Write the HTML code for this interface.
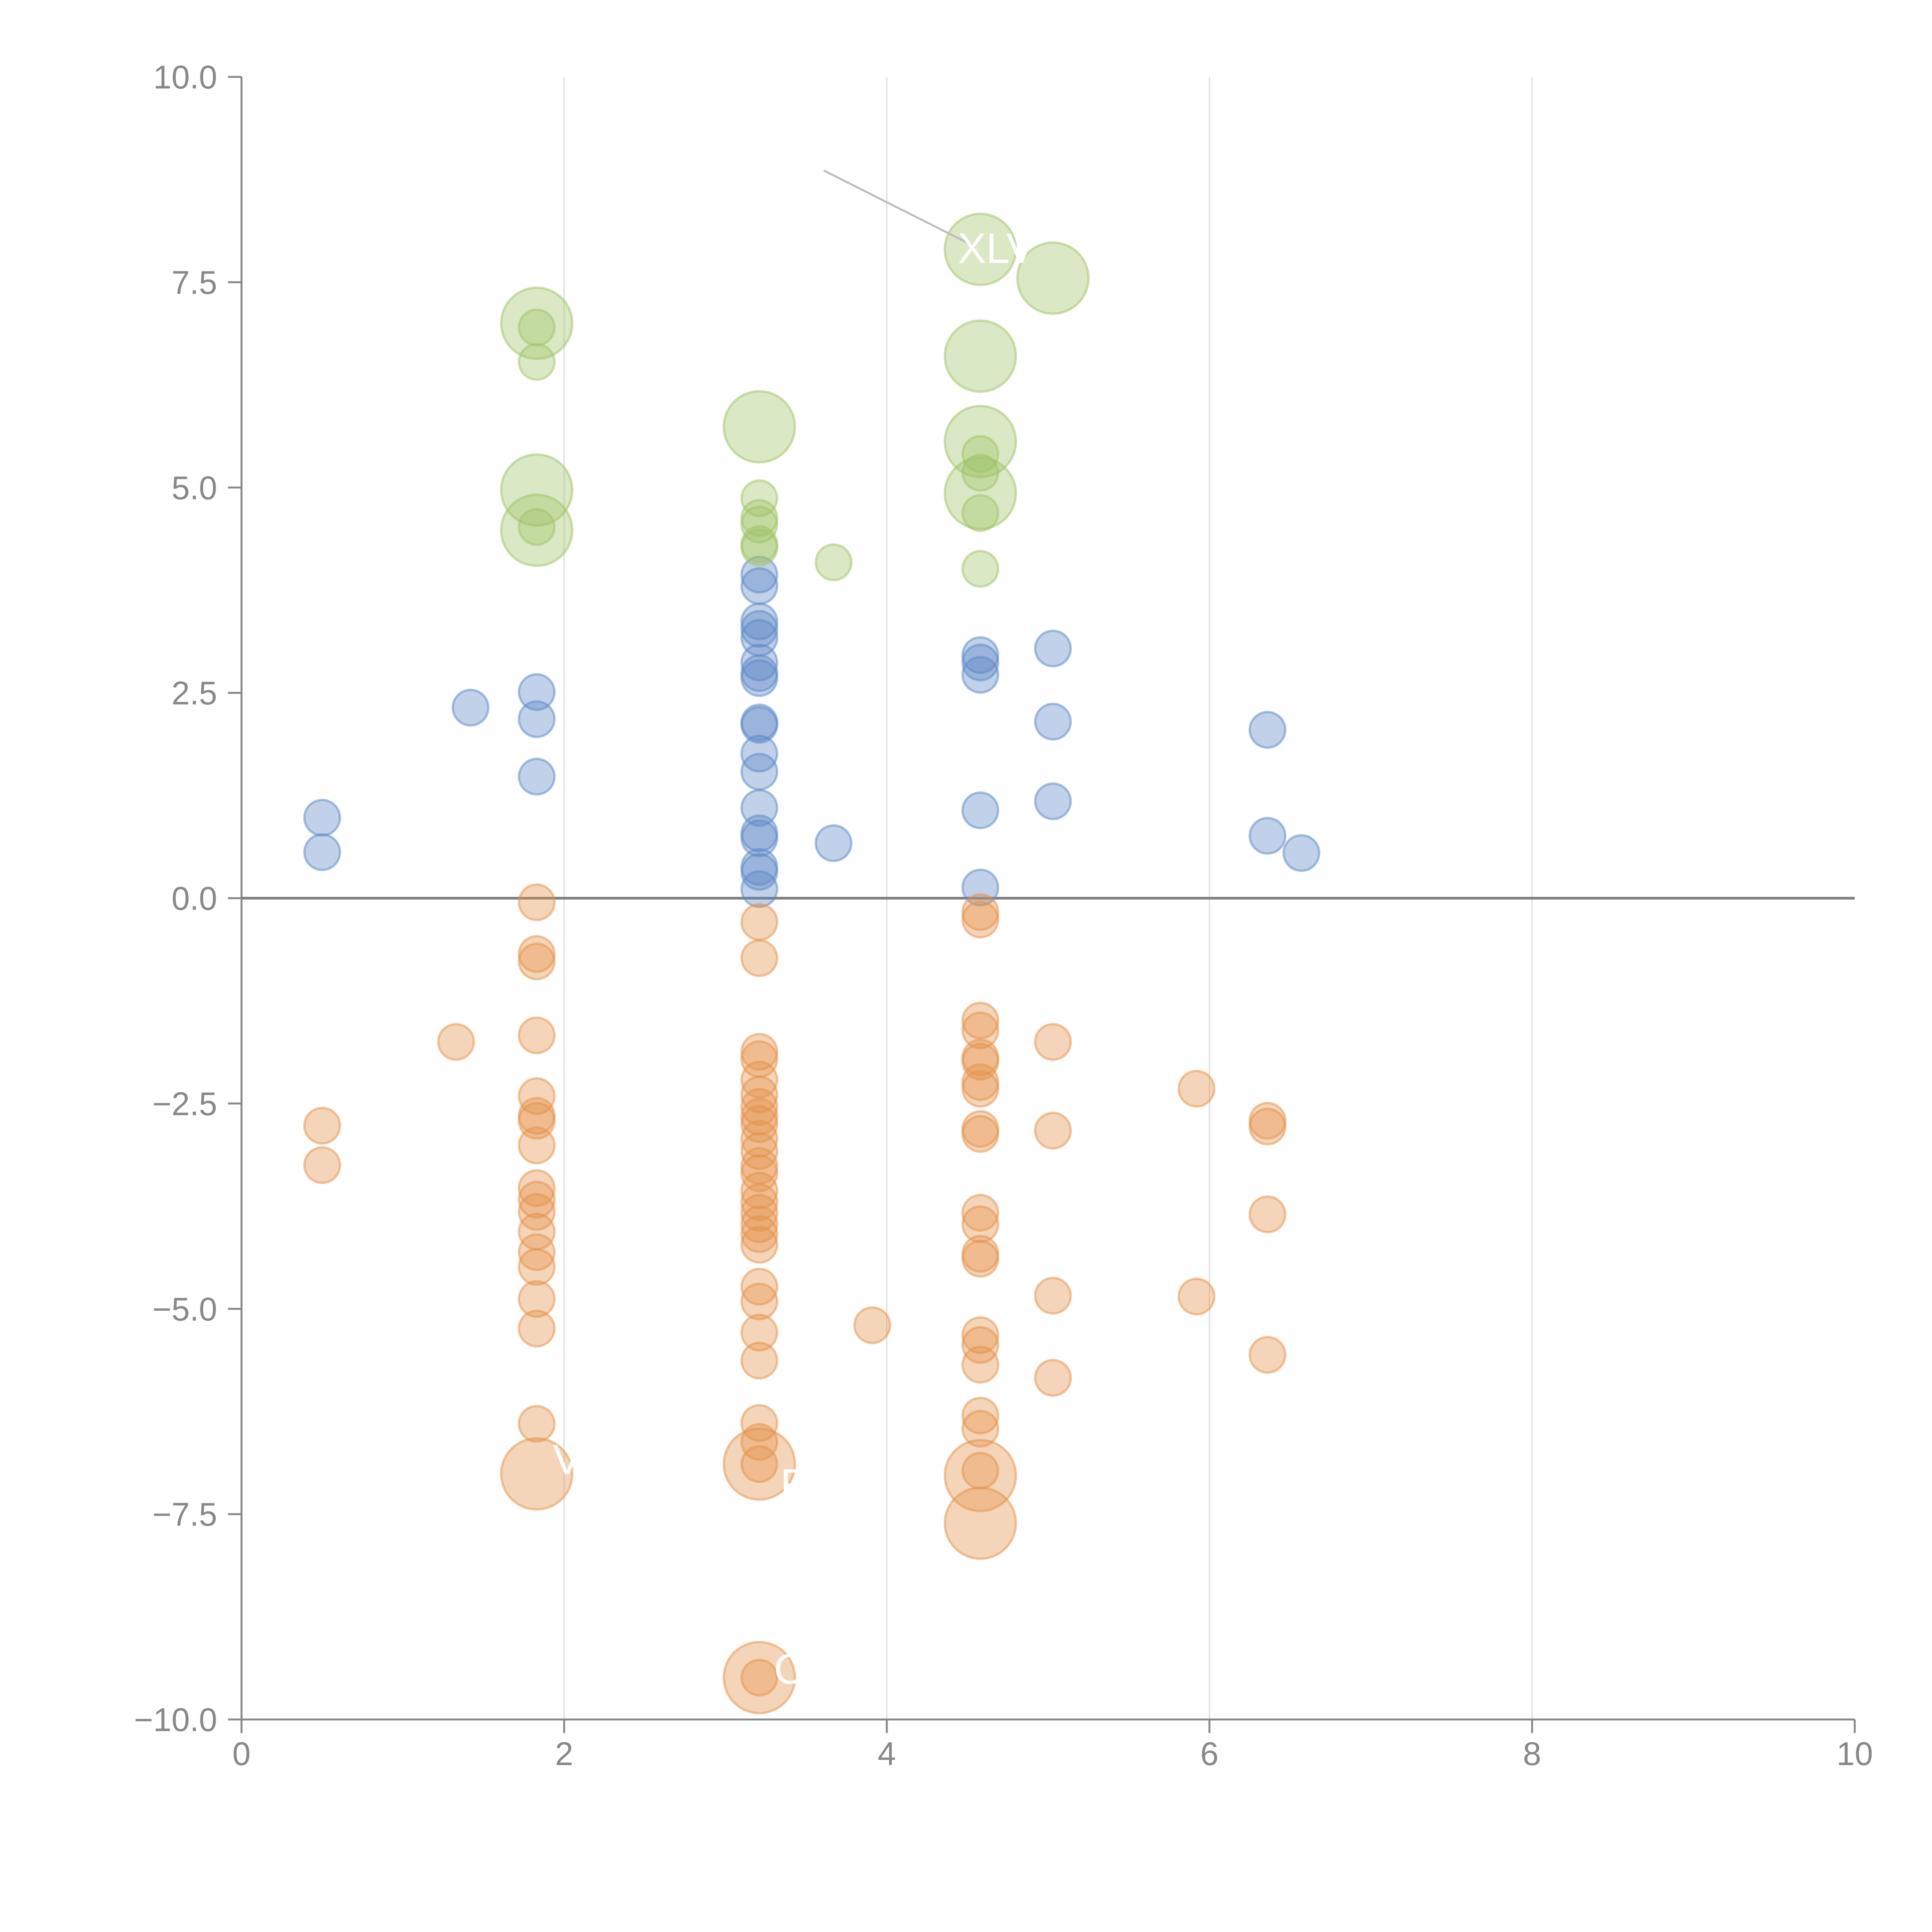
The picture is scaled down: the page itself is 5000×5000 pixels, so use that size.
<!DOCTYPE html>
<html><head><meta charset="utf-8"><style>html,body{margin:0;padding:0;background:#fff}svg{display:block}</style></head>
<body>
<svg id="chart" width="5000" height="5000" viewBox="0 0 5000 5000" xmlns="http://www.w3.org/2000/svg" font-family="Liberation Sans, sans-serif"></svg>
<script>
const xTicks = [0, 2, 4, 6, 8, 10];
const xTickLabels = ["0", "2", "4", "6", "8", "10"];
const yTicks = [10, 7.5, 5, 2.5, 0, -2.5, -5, -7.5, -10];
const yTickLabels = ["10.0", "7.5", "5.0", "2.5", "0.0", "\u22122.5", "\u22125.0", "\u22127.5", "\u221210.0"];

const blueX = [0.5,0.5,1.42,1.83,1.83,1.83,3.21,3.21,3.21,3.21,3.21,3.21,3.21,3.21,3.21,3.21,3.21,3.21,3.21,3.21,3.21,3.21,3.21,3.21,3.67,4.58,4.58,4.58,4.58,4.58,5.03,5.03,5.03,6.36,6.36,6.57];
const blueY = [0.98,0.56,2.32,2.51,2.18,1.48,3.94,3.80,3.37,3.28,3.17,2.87,2.74,2.68,2.14,2.11,1.76,1.54,1.10,0.79,0.73,0.38,0.32,0.11,0.67,2.96,2.87,2.72,1.07,0.13,3.04,2.15,1.18,2.05,0.76,0.55];

const greenX = [1.83,1.83,1.83,1.83,1.83,1.83,3.21,3.21,3.21,3.21,3.21,3.21,3.67,4.58,4.58,4.58,4.58,4.58,4.58,4.58,4.58,5.03];
const greenY = [7.0,6.95,6.53,4.97,4.48,4.52,5.74,4.87,4.63,4.55,4.31,4.27,4.09,7.9,6.6,5.56,5.41,5.18,4.93,4.69,4.01,7.55];
const greenSize = [2,1,1,2,2,1,2,1,1,1,1,1,1,2,2,2,1,1,2,1,1,2];

const orangeX = [0.5,0.5,1.33,1.83,1.83,1.83,1.83,1.83,1.83,1.83,1.83,1.83,1.83,1.83,1.83,1.83,1.83,1.83,1.83,1.83,1.83,3.21,3.21,3.21,3.21,3.21,3.21,3.21,3.21,3.21,3.21,3.21,3.21,3.21,3.21,3.21,3.21,3.21,3.21,3.21,3.21,3.21,3.21,3.21,3.21,3.21,3.21,3.21,3.21,3.21,3.91,4.58,4.58,4.58,4.58,4.58,4.58,4.58,4.58,4.58,4.58,4.58,4.58,4.58,4.58,4.58,4.58,4.58,4.58,4.58,4.58,4.58,4.58,5.03,5.03,5.03,5.03,5.92,5.92,6.36,6.36,6.36,6.36];
const orangeY = [-2.77,-3.25,-1.75,-0.05,-0.68,-0.77,-1.67,-2.41,-2.65,-2.71,-3.01,-3.53,-3.67,-3.82,-4.06,-4.31,-4.49,-4.88,-5.24,-6.40,-7.01,-0.29,-0.73,-1.87,-1.96,-2.21,-2.39,-2.54,-2.66,-2.75,-2.93,-3.08,-3.26,-3.35,-3.56,-3.70,-3.83,-3.97,-4.09,-4.22,-4.73,-4.91,-5.29,-5.63,-6.39,-6.62,-6.89,-6.89,-9.49,-9.49,-5.20,-0.17,-0.26,-1.49,-1.61,-1.94,-1.99,-2.24,-2.32,-2.81,-2.87,-3.83,-3.97,-4.33,-4.39,-5.32,-5.44,-5.68,-6.30,-6.46,-7.03,-6.97,-7.61,-1.75,-2.83,-4.84,-5.84,-2.32,-4.85,-2.71,-2.78,-3.85,-5.56];
const orangeSize = [1,1,1,1,1,1,1,1,1,1,1,1,1,1,1,1,1,1,1,1,2,1,1,1,1,1,1,1,1,1,1,1,1,1,1,1,1,1,1,1,1,1,1,1,1,1,2,1,2,1,1,1,1,1,1,1,1,1,1,1,1,1,1,1,1,1,1,1,1,1,2,1,2,1,1,1,1,1,1,1,1,1,1];

const X0 = 625, X1 = 4800, Y0 = 4450, Y1 = 199;
const sx = v => X0 + (v - 0) / 10 * (X1 - X0);
const sy = v => Y0 - (v + 10) / 20 * (Y0 - Y1);
const NS = "http://www.w3.org/2000/svg";
const svg = document.getElementById('chart');
function mk(tag, attrs, parent) {
  const e = document.createElementNS(NS, tag);
  for (const k in attrs) e.setAttribute(k, attrs[k]);
  (parent || svg).appendChild(e);
  return e;
}

// gridlines
xTicks.forEach((t, i) => {
  if (t === 0 || t === 10) return;
  const g = mk('line', {x1: sx(t), x2: sx(t), y1: Y1, y2: Y0, stroke: '#dcdcdc', 'stroke-width': 3});
  
  
});

// axes
const ya = mk('line', {x1: X0, x2: X0, y1: Y1, y2: Y0, stroke: '#888', 'stroke-width': 5});


const xa = mk('line', {x1: X0, x2: X1, y1: Y0, y2: Y0, stroke: '#888', 'stroke-width': 5});



xTicks.forEach((t, i) => {
  const tk = mk('line', {x1: sx(t), x2: sx(t), y1: Y0, y2: Y0 + 35, stroke: '#888', 'stroke-width': 5});
  
  
  const tl = mk('text', {x: sx(t), y: Y0 + 118, 'text-anchor': 'middle', 'font-size': 85, fill: '#888'});
  tl.textContent = xTickLabels[i];
  
  
});
yTicks.forEach((t, i) => {
  const tk = mk('line', {x1: X0 - 35, x2: X0, y1: sy(t), y2: sy(t), stroke: '#888', 'stroke-width': 5});
  
  
  const tl = mk('text', {x: 562, y: sy(t) + 30, 'text-anchor': 'end', 'font-size': 85, fill: '#888'});
  tl.textContent = yTickLabels[i];
  
  
});

// zero line
const zl = mk('line', {x1: X0, x2: X1, y1: sy(0), y2: sy(0), stroke: '#808080', 'stroke-width': 7});



function series(xs, ys, sizes, color, name) {
  xs.forEach((x, i) => {
    const r = (sizes && sizes[i] === 2) ? 92 : 46;
    const c = mk('circle', {cx: sx(x), cy: sy(ys[i]), r: r, fill: color, 'fill-opacity': 0.38, stroke: color, 'stroke-opacity': 0.5, 'stroke-width': 6});
    
    
  });
}
series(blueX, blueY, null, '#5b87c5', 'blue');
series(greenX, greenY, greenSize, '#9fc266', 'green');
series(orangeX, orangeY, orangeSize, '#e4914a', 'orange');

// leader line
const ll = mk('line', {x1: sx(3.61), x2: sx(4.55), y1: sy(8.86), y2: sy(7.93), stroke: '#bbb', 'stroke-width': 5});



// white annotation labels
const labs = [["XLV", 4.44, 7.9], ["V", 1.93, -6.85], ["F", 3.34, -7.15], ["C", 3.3, -9.4]];
labs.forEach(l => {
  const t = mk('text', {x: sx(l[1]), y: sy(l[2]) + 35, 'font-size': 110, fill: '#fff'});
  t.textContent = l[0];
  
  
});
</script>
</body></html>
